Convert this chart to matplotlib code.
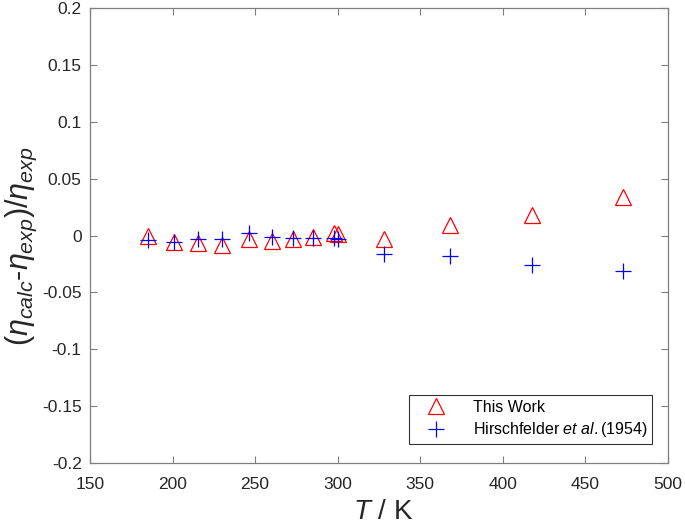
import numpy as np
import matplotlib.pyplot as plt

plt.rcParams['font.family'] = ['Liberation Sans', 'DejaVu Sans']
plt.rcParams['mathtext.fontset'] = 'custom'
plt.rcParams['mathtext.rm'] = 'Liberation Sans'
plt.rcParams['mathtext.it'] = 'Liberation Sans:italic'

# This Work
T_work = [185, 201, 215.5, 230, 246, 260, 273, 285, 298, 300, 328, 368, 418, 473]
dev_work = [0.000, -0.006, -0.007, -0.0085, -0.003, -0.0044, -0.003, -0.001,
            0.002, 0.001, -0.003, 0.0088, 0.018, 0.034]

# Hirschfelder et al. (1954)
T_hirsch = [185, 201, 215.5, 230, 246, 260, 273, 285, 298, 300, 328, 368, 418, 473]
dev_hirsch = [-0.004, -0.006, -0.003, -0.003, 0.002, -0.001, -0.002, -0.002,
              -0.002, -0.003, -0.016, -0.0176, -0.026, -0.031]

fig = plt.figure(figsize=(6.85, 5.23), dpi=100)
ax = fig.add_axes([0.1314, 0.1147, 0.8436, 0.87])

ax.plot(T_work, dev_work, '^', mfc='none', mec='r', ms=12, mew=0.9, label='This Work')
ax.plot(T_hirsch, dev_hirsch, '+', color='b', ms=12, mew=0.9,
        label=r'Hirschfelder $\mathit{et\ al.}$(1954)')

ax.set_xlim(150, 500)
ax.set_ylim(-0.2, 0.2)
ax.set_xticks(np.arange(150, 501, 50))
ax.set_yticks(np.arange(-0.2, 0.201, 0.05))
ax.set_yticklabels(['-0.2', '-0.15', '-0.1', '-0.05', '0', '0.05', '0.1', '0.15', '0.2'])

gray = '#262626'
for s in ax.spines.values():
    s.set_color('#7f7f7f')
    s.set_linewidth(0.9)
ax.tick_params(direction='in', top=True, right=True, length=5, width=0.8,
               color='#7f7f7f', labelsize=12.5, labelcolor=gray, pad=6)
ax.tick_params(axis='x', pad=10)

ax.set_xlabel(r'$\mathit{T}$ / K', fontsize=20, color=gray)
ax.xaxis.set_label_coords(0.507, -0.078)
ax.set_ylabel(r'$(\eta_{calc}$-$\eta_{exp})/\eta_{exp}$', fontsize=22, color=gray)
ax.yaxis.set_label_coords(-0.088, 0.477)

leg = ax.legend(loc='lower right', bbox_to_anchor=(0.973, 0.042), fontsize=11.5,
                fancybox=False, framealpha=1, edgecolor='#333333',
                borderpad=0.3, borderaxespad=0, handlelength=2.8,
                handletextpad=0.9, labelspacing=0.35)
leg.get_frame().set_linewidth(0.8)
for t in leg.get_texts():
    t.set_color('black')

fig.savefig('out.png', dpi=100)
